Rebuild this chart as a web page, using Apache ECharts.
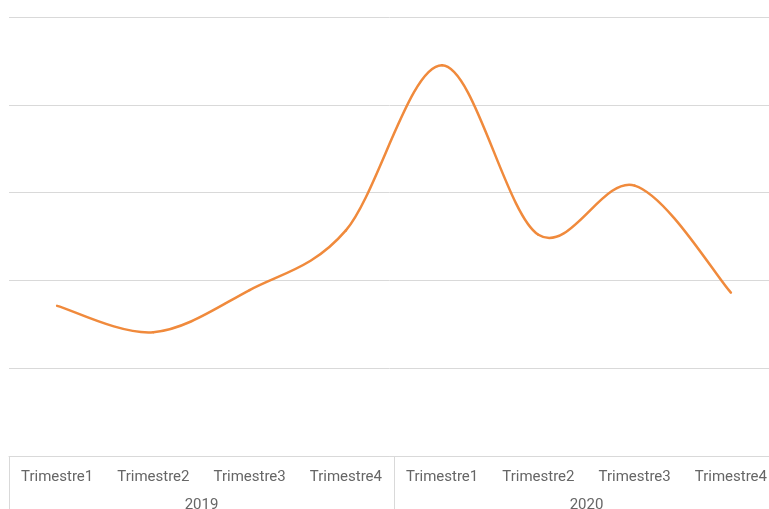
<!DOCTYPE html>
<html><head><meta charset="utf-8">
<script src="https://cdn.jsdelivr.net/npm/echarts@6/dist/echarts.min.js"></script>
<style>html,body{margin:0;padding:0;background:#fff}#c{width:769px;height:509px}</style>
</head><body><div id="c"></div>
<script>
var quarters = ['Trimestre1','Trimestre2','Trimestre3','Trimestre4','Trimestre1','Trimestre2','Trimestre3','Trimestre4'];
var years = ['2019','2020'];
var values = [1.71, 1.41, 1.89, 2.57, 4.45, 2.52, 3.08, 1.86];
var lineColor = '#F08A3C';
var chart = echarts.init(document.getElementById('c'));
function renderSeg(params, api) {
  var i = params.dataIndex, n = values.length;
  if (i >= n - 1) return null;
  function pt(k) { k = Math.max(0, Math.min(n - 1, k)); return api.coord([k, values[k]]); }
  var p0 = pt(i - 1), p1 = pt(i), p2 = pt(i + 1), p3 = pt(i + 2);
  return {
    type: 'bezierCurve',
    shape: {
      x1: p1[0], y1: p1[1], x2: p2[0], y2: p2[1],
      cpx1: p1[0] + (p2[0] - p0[0]) / 6, cpy1: p1[1] + (p2[1] - p0[1]) / 6,
      cpx2: p2[0] - (p3[0] - p1[0]) / 6, cpy2: p2[1] - (p3[1] - p1[1]) / 6
    },
    style: {stroke: lineColor, lineWidth: 2.5, fill: null, lineCap: 'round'}
  };
}
chart.setOption({
  animation: false,
  grid: {left: 9, width: 770, top: 17, bottom: 53, containLabel: false, outerBoundsMode: 'none'},
  xAxis: [{
    type: 'category', data: quarters, boundaryGap: true, position: 'bottom',
    axisLine: {lineStyle: {color: '#d9d9d9', width: 1}},
    axisTick: {show: false},
    axisLabel: {interval: 0, color: '#666', fontSize: 15, fontFamily: 'Roboto', margin: 14}
  }, {
    type: 'category', data: years, boundaryGap: true, position: 'bottom',
    axisLine: {show: false},
    axisTick: {show: true, length: 60, lineStyle: {color: '#d9d9d9'}},
    axisLabel: {interval: 0, color: '#666', fontSize: 15, fontFamily: 'Roboto', margin: 42}
  }],
  yAxis: {
    type: 'value', min: 0, max: 5, interval: 1,
    axisLabel: {show: false}, axisLine: {show: false}, axisTick: {show: false},
    splitLine: {lineStyle: {color: '#d9d9d9', width: 1}}
  },
  series: [{
    type: 'custom', renderItem: renderSeg, clip: false,
    data: values.map(function (v, i) { return [i, v]; })
  }]
});
</script></body></html>
